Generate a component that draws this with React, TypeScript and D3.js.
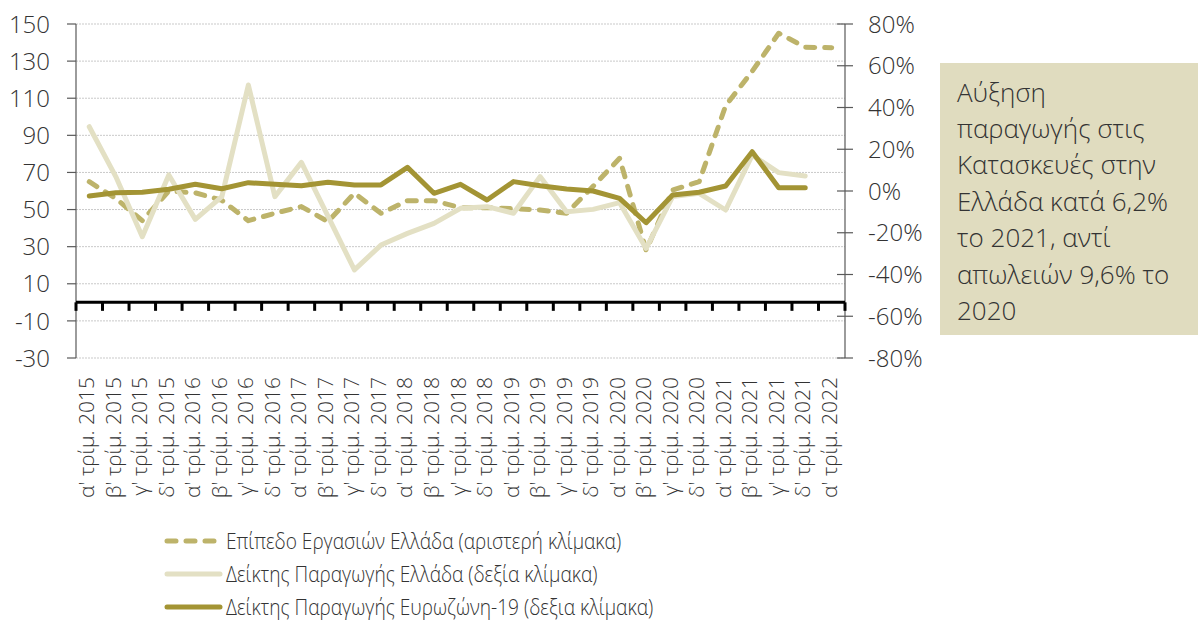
import React from "react";
import * as d3 from "d3";

const categories = [
  "α' τρίμ. 2015", "β' τρίμ. 2015", "γ' τρίμ. 2015", "δ' τρίμ. 2015",
  "α' τρίμ. 2016", "β' τρίμ. 2016", "γ' τρίμ. 2016", "δ' τρίμ. 2016",
  "α' τρίμ. 2017", "β' τρίμ. 2017", "γ' τρίμ. 2017", "δ' τρίμ. 2017",
  "α' τρίμ. 2018", "β' τρίμ. 2018", "γ' τρίμ. 2018", "δ' τρίμ. 2018",
  "α' τρίμ. 2019", "β' τρίμ. 2019", "γ' τρίμ. 2019", "δ' τρίμ. 2019",
  "α' τρίμ. 2020", "β' τρίμ. 2020", "γ' τρίμ. 2020", "δ' τρίμ. 2020",
  "α' τρίμ. 2021", "β' τρίμ. 2021", "γ' τρίμ. 2021", "δ' τρίμ. 2021",
  "α' τρίμ. 2022",
];

// Επίπεδο Εργασιών Ελλάδα (left scale)
const turnoverGreece = [
  65, 56, 44, 60, 59, 55, 44, 48, 51.6, 43.5, 58.8, 48, 54.8, 54.8, 51, 51,
  50.5, 49.8, 48, 62.5, 77.6, 28, 60.5, 65, 106, 124.5, 145, 137.5, 137.2,
];

// Δείκτης Παραγωγής Ελλάδα (right scale, %)
const productionGreece = [
  30.8, 6.9, -21.9, 7.7, -13.6, -2.7, 50.8, -2.7, 13.7, -12, -37.8, -25.9,
  -20.3, -15.5, -8.3, -7.5, -10.7, 6.9, -9.9, -8.8, -5.6, -27.5, -2.7, -1.1,
  -9.1, 17.2, 8.8, 7.2,
];

// Δείκτης Παραγωγής Ευρωζώνη-19 (right scale, %)
const productionEA19 = [
  -2.4, -0.8, -0.6, 0.8, 3.2, 1.1, 4.0, 3.2, 2.5, 4.2, 2.9, 2.9, 11.3, -1.1,
  3.2, -4.3, 4.5, 2.5, 1.0, 0, -3.5, -15.2, -1.9, -0.6, 2.4, 18.8, 1.6, 1.6,
];

const leftTicks = [150, 130, 110, 90, 70, 50, 30, 10, -10, -30];
const rightTicks = [80, 60, 40, 20, 0, -20, -40, -60, -80];

const legendLabels = [
  "Επίπεδο Εργασιών Ελλάδα (αριστερή κλίμακα)",
  "Δείκτης Παραγωγής Ελλάδα (δεξία κλίμακα)",
  "Δείκτης Παραγωγής Ευρωζώνη-19 (δεξια κλίμακα)",
];

const noteLines = [
  "Αύξηση",
  "παραγωγής στις",
  "Κατασκευές στην",
  "Ελλάδα κατά 6,2%",
  "το 2021, αντί",
  "απωλειών 9,6% το",
  "2020",
];

const C_DASH = "#bdb36a";
const C_LIGHT = "#e3e0c4";
const C_DARK = "#a39434";
const FONT = "'Open Sans', sans-serif";
const TXT = "#333333";

export default function App() {
  const W = 1198, H = 622;
  const left = 76, right = 845, top = 24, bottom = 358;

  const x = d3.scaleBand<string>().domain(categories).range([left, right]).padding(0);
  const yL = d3.scaleLinear().domain([-30, 150]).range([bottom, top]);
  const yR = d3.scaleLinear().domain([-80, 80]).range([bottom, top]);
  const cx = (i: number) => (x(categories[i]) as number) + x.bandwidth() / 2;

  const lineL = d3.line<number>().x((_, i) => cx(i)).y((d) => yL(d));
  const lineR = d3.line<number>().x((_, i) => cx(i)).y((d) => yR(d));

  const y0 = yL(0);
  const boundaries = d3.range(categories.length + 1).map((i) => left + i * x.step());

  const legendY = (i: number) => 541 + i * 33;

  return (
    <svg width={W} height={H} style={{ position: "absolute", left: 0, top: 0, background: "#fff" }} fontFamily={FONT}>
      {/* gridlines */}
      {leftTicks.map((t) => (
        <line key={"g" + t} x1={left} x2={right} y1={yL(t)} y2={yL(t)} stroke="#c9c9c9" strokeWidth={1} strokeDasharray="2 1" />
      ))}
      {/* left axis */}
      <line x1={left} x2={left} y1={top} y2={bottom} stroke="#595959" strokeWidth={1.2} />
      {leftTicks.map((t) => (
        <g key={"l" + t}>
          <line x1={left - 9} x2={left} y1={yL(t)} y2={yL(t)} stroke="#595959" strokeWidth={1.2} />
          <text x={50} y={yL(t)} dy="0.36em" textAnchor="end" fontSize={24} fontWeight={300} fill={TXT}>{t}</text>
        </g>
      ))}
      {/* right axis */}
      <line x1={right} x2={right} y1={top} y2={bottom} stroke="#595959" strokeWidth={1.2} />
      {rightTicks.map((t) => (
        <g key={"r" + t}>
          <line x1={right - 8} x2={right + 8} y1={yR(t)} y2={yR(t)} stroke="#595959" strokeWidth={1.2} />
          <text x={868} y={yR(t)} dy="0.36em" textAnchor="start" fontSize={24} fontWeight={300} fill={TXT}>{t}%</text>
        </g>
      ))}
      {/* category axis */}
      <line x1={left} x2={right} y1={y0} y2={y0} stroke="#000" strokeWidth={3} />
      {boundaries.map((bx, i) => (
        <line key={"t" + i} x1={bx} x2={bx} y1={y0} y2={y0 + 8.5} stroke="#000" strokeWidth={3} />
      ))}
      {categories.map((c, i) => (
        <text key={"c" + i} transform={`translate(${cx(i) + 5},377) rotate(-90)`} textAnchor="end" fontSize={21} fontWeight={300} fill={TXT}>{c}</text>
      ))}
      {/* series */}
      <path d={lineL(turnoverGreece) || ""} fill="none" stroke={C_DASH} strokeWidth={5} strokeDasharray="9 10" strokeLinecap="round" strokeLinejoin="round" />
      <path d={lineR(productionGreece) || ""} fill="none" stroke={C_LIGHT} strokeWidth={5} strokeLinecap="round" strokeLinejoin="round" />
      <path d={lineR(productionEA19) || ""} fill="none" stroke={C_DARK} strokeWidth={5} strokeLinecap="round" strokeLinejoin="round" />
      {/* legend */}
      {legendLabels.map((l, i) => (
        <g key={"lg" + i}>
          <line x1={167} x2={220} y1={legendY(i)} y2={legendY(i)}
            stroke={[C_DASH, C_LIGHT, C_DARK][i]} strokeWidth={5} strokeLinecap="round"
            strokeDasharray={i === 0 ? "9 10" : undefined} />
          <g transform={`translate(226,${legendY(i)}) scale(0.87,1)`}>
            <text x={0} y={0} dy="0.36em" fontSize={22} fontWeight={300} fill={TXT}>{l}</text>
          </g>
        </g>
      ))}
      {/* note box */}
      <rect x={940} y={63} width={258} height={272} fill="#e0dcbf" />
      {noteLines.map((s, i) => (
        <text key={"n" + i} x={957} y={101.5 + i * 36.4} fontSize={26} fontWeight={300} fill={TXT}>{s}</text>
      ))}
    </svg>
  );
}
